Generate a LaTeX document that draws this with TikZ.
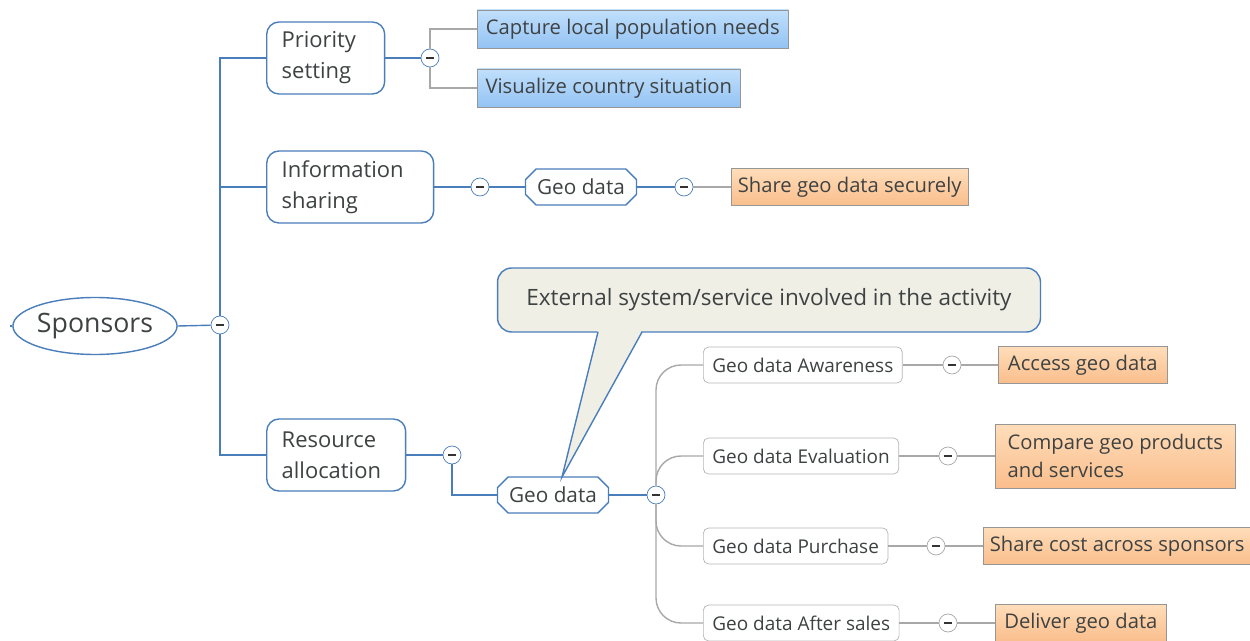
\documentclass[tikz,border=0pt]{standalone}
\usepackage{fontspec}
\setmainfont{Open Sans}
\usetikzlibrary{shapes.geometric,shapes.misc}
\definecolor{mapblue}{RGB}{74,126,187}
\definecolor{mapgray}{RGB}{168,168,168}
\definecolor{boxgray}{RGB}{150,150,150}
\definecolor{txtgray}{RGB}{62,66,66}
\definecolor{notefill}{RGB}{240,239,230}
\definecolor{bluetop}{RGB}{192,223,251}
\definecolor{bluebot}{RGB}{148,195,244}
\definecolor{orangetop}{RGB}{255,221,186}
\definecolor{orangebot}{RGB}{250,190,140}
\begin{document}
\begin{tikzpicture}[x=0.02cm, y=-0.02cm,
    every node/.style={text=txtgray},
    root/.style={draw=mapblue, thick, ellipse, fill=white, minimum width=3.1cm,
                 minimum height=1.14cm, inner sep=0pt, font=\fontsize{15.2}{18}\selectfont},
    topic/.style={draw=mapblue, thick, rounded corners=7pt, fill=white, anchor=west,
                  minimum height=1.44cm, inner xsep=0.3cm, align=left,
                  font=\fontsize{12.5}{17.6}\selectfont},
    geobox/.style={draw=mapblue, thick, chamfered rectangle, chamfered rectangle xsep=3pt,
                   chamfered rectangle ysep=3pt, fill=white,
                   minimum width=2.22cm, minimum height=0.72cm, inner sep=0pt,
                   font=\fontsize{11.8}{14}\selectfont},
    stage/.style={draw=boxgray!70, rounded corners=3pt, fill=white, anchor=west,
                  minimum height=0.72cm, inner xsep=0.18cm,
                  font=\fontsize{10.8}{13}\selectfont},
    bluebox/.style={draw=boxgray, top color=bluetop, bottom color=bluebot, anchor=west,
                    minimum height=0.76cm, inner xsep=0.11cm,
                    font=\fontsize{11.5}{14}\selectfont},
    orangebox/.style={draw=boxgray, top color=orangetop, bottom color=orangebot, anchor=west,
                      minimum height=0.74cm, inner xsep=0.13cm, align=left,
                      font=\fontsize{11.5}{15.9}\selectfont},
    note/.style={draw=mapblue, thick, rounded corners=8pt, fill=notefill,
                 minimum width=10.86cm, minimum height=1.28cm,
                 font=\fontsize{12.8}{15}\selectfont},
    toggle/.style={circle, draw=#1, fill=white, minimum size=0.36cm, inner sep=0pt,
                   path picture={\draw[black!80, line width=1.1pt]
                     ([xshift=-2.4pt]path picture bounding box.center) --
                     ([xshift=2.4pt]path picture bounding box.center);}},
    toggle/.default=mapblue,
    bline/.style={draw=mapblue, line width=0.8pt},
    gline/.style={draw=mapgray, line width=0.8pt}
]
\useasboundingbox (0,0) rectangle (1250,641);

% root and first level
\node[root] (spon) at (95,326) {Sponsors};
\coordinate (stub) at (10,326);
\node[toggle] (c0) at (220,325) {};

\node[topic, text width=1.76cm] (prio) at (266,58) {Priority\\setting};
\node[topic, text width=2.74cm] (info) at (266,187) {Information\\sharing};
\node[topic, text width=2.18cm] (res) at (266,455) {Resource\\allocation};

\draw[bline] (stub) -- (spon.west);
\draw[bline] (spon.east) -- (c0);
\draw[bline] (prio.west) -| (c0.north);
\draw[bline] (info.west) -| (c0.north);
\draw[bline] (res.west) -| (c0.south);

% priority setting
\node[toggle] (c1) at (430,58) {};
\node[bluebox, minimum width=6.22cm] (cap) at (477,29) {Capture local population needs};
\node[bluebox, minimum width=5.26cm] (vis) at (477,88) {Visualize country situation};
\draw[bline] (prio.east) -- (c1);
\draw[gline] (c1.north) |- (cap.west);
\draw[gline] (c1.south) |- (vis.west);

% information sharing
\node[toggle] (c2) at (480,187) {};
\node[geobox] (gd1) at (581,187) {Geo data};
\node[toggle] (c3) at (684,187) {};
\node[orangebox] (share) at (731,187) {Share geo data securely};
\draw[bline] (info.east) -- (c2) -- (gd1.west);
\draw[bline] (gd1.east) -- (c3);
\draw[gline] (c3) -- (share.west);

% resource allocation
\node[toggle] (c4) at (452,455) {};
\node[geobox] (gd2) at (553,495) {Geo data};
\node[toggle] (c5) at (656,495) {};
\draw[bline] (res.east) -- (c4);
\draw[bline] (c4.south) |- (gd2.west);
\draw[bline] (gd2.east) -- (c5);

\node[stage] (aw) at (703,365) {Geo data Awareness};
\node[stage] (ev) at (703,456) {Geo data Evaluation};
\node[stage] (pu) at (703,546) {Geo data Purchase};
\node[stage] (af) at (703,623) {Geo data After sales};
\draw[gline, rounded corners=0.5cm] (c5.north) |- (aw.west);
\draw[gline, rounded corners=0.5cm] (c5.north) |- (ev.west);
\draw[gline, rounded corners=0.5cm] (c5.south) |- (pu.west);
\draw[gline, rounded corners=0.5cm] (c5.south) |- (af.west);

\node[toggle=mapgray] (g1) at (952,365) {};
\node[toggle=mapgray] (g2) at (948,456) {};
\node[toggle=mapgray] (g3) at (936,546) {};
\node[toggle=mapgray] (g4) at (948,623) {};
\node[orangebox, minimum width=3.38cm] (acc) at (998,365) {Access geo data};
\node[orangebox, minimum width=4.8cm, minimum height=1.28cm] (cmp) at (995,456) {Compare geo products\\and services};
\node[orangebox] (cost) at (983,546) {Share cost across sponsors};
\node[orangebox, minimum width=3.42cm] (del) at (995,623) {Deliver geo data};
\draw[gline] (aw.east) -- (g1) -- (acc.west);
\draw[gline] (ev.east) -- (g2) -- (cmp.west);
\draw[gline] (pu.east) -- (g3) -- (cost.west);
\draw[gline] (af.east) -- (g4) -- (del.west);

% callout
\node[note] (ext) at (769,300) {External system/service involved in the activity};
\coordinate (tip) at (562,477);
\fill[notefill] (598,330) -- (tip) -- (642,330) -- cycle;
\draw[mapblue, thick] (598,332) -- (tip) -- (642,332);
\end{tikzpicture}
\end{document}
